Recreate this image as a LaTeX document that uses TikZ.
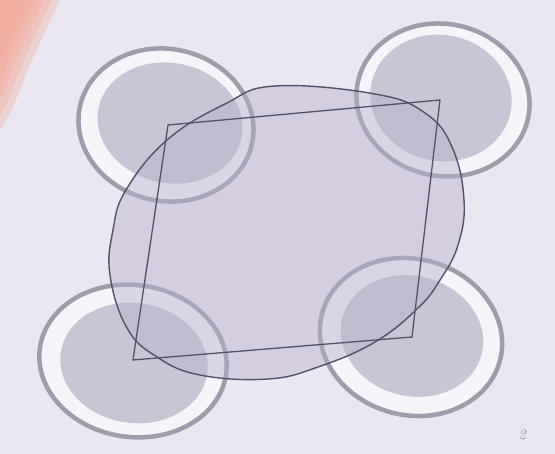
\documentclass[tikz,border=0pt]{standalone}
\begin{document}
\begin{tikzpicture}[x=1pt,y=-1pt,
  ringout/.style={draw=ringgray,line width=4.5pt,fill=bandwhite},
  disk/.style={fill=diskgray,draw=none},
  blobstyle/.style={draw=inkdark,line width=1.4pt,fill=blobfill,fill opacity=0.45,line join=round},
  quad/.style={draw=inkdark,line width=1.3pt,line join=miter},
  peachlayer/.style={fill=peach,fill opacity=0.3,draw=none}]
\definecolor{bg}{HTML}{EBE7F2}
\definecolor{ringgray}{HTML}{A09CAC}
\definecolor{bandwhite}{HTML}{F6F4F9}
\definecolor{diskgray}{HTML}{CAC5D5}
\definecolor{blobfill}{HTML}{B8B0CC}
\definecolor{inkdark}{HTML}{55506A}
\definecolor{peach}{HTML}{F2A48E}
\definecolor{labelgray}{HTML}{8A8498}
\useasboundingbox (0,0) rectangle (555,454);
\fill[bg] (0,0) rectangle (555,454);
% photo edge at top left, faded in layers
\fill[peachlayer] (0,0) -- (60,0) -- (32,60) -- (12,110) -- (0,130) -- cycle;
\fill[peachlayer] (0,0) -- (52,0) -- (26,55) -- (8,100) -- (0,115) -- cycle;
\fill[peachlayer] (0,0) -- (44,0) -- (20,50) -- (5,88) -- (0,98) -- cycle;
\fill[peachlayer] (0,0) -- (36,0) -- (14,45) -- (3,75) -- (0,82) -- cycle;
\fill[peachlayer] (0,0) -- (28,0) -- (9,40) -- (0,62) -- cycle;
% four ringed disks
\draw[ringout] (166,125) ellipse[x radius=88, y radius=76, rotate=-12];
\fill[disk] (170,123) ellipse[x radius=73, y radius=60, rotate=-12];
\draw[ringout] (443,100) ellipse[x radius=87, y radius=76, rotate=-12];
\fill[disk] (441,98) ellipse[x radius=71, y radius=63, rotate=-12];
\draw[ringout] (133,361) ellipse[x radius=94, y radius=76, rotate=-8];
\fill[disk] (134,363) ellipse[x radius=74, y radius=60, rotate=-8];
\draw[ringout] (411,337) ellipse[x radius=92, y radius=78, rotate=-15];
\fill[disk] (412,336) ellipse[x radius=72, y radius=60, rotate=-15];
% central blob
\draw[blobstyle] plot[smooth cycle, tension=0.7] coordinates {
  (275,86) (375,94) (425,113) (452,147) (464,200) (458,245) (440,280)
  (418,308) (375,342) (318,367) (268,379) (200,375) (157,357) (127,328)
  (110,275) (113,230) (126,190) (167,140) (225,104)};
% quadrilateral joining the disk centres
\coordinate (qa) at (168,125);
\coordinate (qb) at (440,100);
\coordinate (qc) at (412,337);
\coordinate (qd) at (133,360);
\draw[quad] (qa) -- (qb) -- (qc) -- (qd) -- cycle;
\node[text=labelgray,font=\fontsize{15}{15}\selectfont\itshape] (lbl) at (522,435) {2};
\end{tikzpicture}
\end{document}
